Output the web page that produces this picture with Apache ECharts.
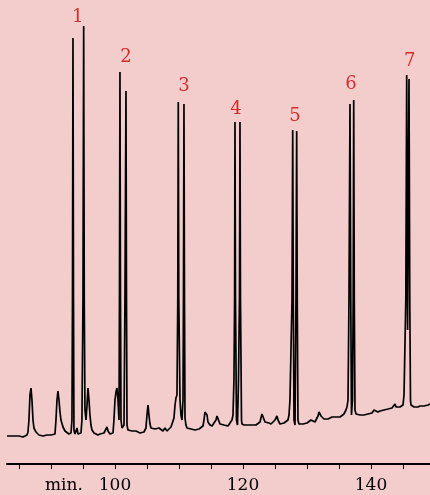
<!DOCTYPE html>
<html>
<head>
<meta charset="utf-8">
<script src="https://cdn.jsdelivr.net/npm/echarts@6/dist/echarts.min.js"></script>
<style>
html,body{margin:0;padding:0;background:#f3cccc;}
#chart{width:430px;height:495px;}
</style>
</head>
<body>
<div id="chart"></div>
<script>
// retention time (min) and detector signal (arbitrary units)
const retentionTimes = [
83.13,83.44,83.75,84.06,84.38,84.69,85.00,85.31,85.63,85.94,86.25,86.41,86.56,86.72,86.88,87.03,87.19,87.34,87.50,87.66,87.81,88.13,88.44,88.75,89.06,89.38,89.69,90.00,90.31,90.63,
90.78,90.94,91.09,91.25,91.41,91.56,91.88,92.19,92.50,92.81,93.13,93.28,93.36,93.44,93.52,93.59,93.75,93.91,94.06,94.22,94.38,94.53,94.69,94.84,95.00,95.11,95.20,95.31,95.47,95.63,
95.78,95.94,96.09,96.25,96.41,96.72,97.03,97.34,97.66,97.97,98.28,98.59,98.75,98.91,99.22,99.53,99.69,99.84,100.00,100.16,100.31,100.47,100.63,100.70,100.78,100.86,100.94,101.09,101.25,101.41,
101.56,101.72,101.80,101.88,102.03,102.34,102.66,102.97,103.28,103.59,103.91,104.22,104.53,104.84,105.00,105.16,105.31,105.47,105.63,105.94,106.25,106.56,106.88,107.19,107.50,107.81,108.13,108.44,108.75,109.06,
109.22,109.38,109.53,109.69,109.81,109.89,109.97,110.16,110.31,110.47,110.63,110.70,110.78,110.86,110.94,111.09,111.25,111.56,111.88,112.19,112.50,112.81,113.13,113.44,113.75,113.91,114.06,114.22,114.38,114.53,
114.84,115.16,115.47,115.78,115.94,116.09,116.25,116.41,116.72,117.03,117.34,117.66,117.97,118.28,118.44,118.59,118.69,118.75,118.83,118.98,119.14,119.30,119.45,119.53,119.61,119.77,119.84,120.16,120.47,120.78,
121.09,121.41,121.72,122.03,122.34,122.66,122.81,122.97,123.13,123.28,123.44,123.75,124.06,124.38,124.69,125.00,125.16,125.31,125.47,125.78,126.09,126.41,126.72,127.03,127.19,127.34,127.50,127.66,127.77,127.86,
127.97,128.13,128.28,128.39,128.48,128.59,128.75,129.06,129.38,129.69,130.00,130.31,130.63,130.78,130.94,131.25,131.56,131.72,131.88,132.03,132.19,132.34,132.66,132.97,133.28,133.59,133.91,134.22,134.53,134.84,
135.16,135.47,135.78,135.94,136.09,136.25,136.41,136.56,136.72,136.84,136.95,137.11,137.22,137.30,137.39,137.50,137.66,137.97,138.28,138.59,138.91,139.22,139.53,139.84,140.16,140.47,140.63,140.78,141.09,141.41,
141.72,142.03,142.34,142.66,142.97,143.28,143.59,143.75,143.91,144.22,144.53,144.84,145.00,145.16,145.44,145.58,145.72,145.83,145.94,146.06,146.17,146.25,146.41,146.72,147.03,147.34,147.66,147.97,148.28,148.59,
148.91,149.22
];
const detectorSignal = [
28,27,28,27,28,27,28,28,27,28,29,32,44,69,76,64,44,36,37,32,30,29,30,28,29,29,28,29,29,30,
44,64,73,64,52,44,37,33,31,30,31,44,164,426,164,34,30,32,36,30,29,28,31,44,164,438,164,54,44,59,
76,64,49,39,34,31,30,29,30,29,31,33,37,33,30,29,31,44,64,72,76,64,44,164,392,164,44,36,34,39,
164,373,164,39,34,32,33,31,33,32,31,31,32,36,49,59,49,40,36,34,35,33,36,34,33,36,33,34,37,36,
46,59,66,69,164,362,164,64,49,44,64,164,360,164,46,39,36,37,35,36,34,36,35,36,38,44,52,54,49,42,
39,38,40,44,48,50,46,40,38,39,37,38,39,44,49,84,164,342,164,44,39,84,164,342,164,44,40,39,40,39,
40,39,40,39,40,42,46,50,52,48,42,40,41,40,41,44,46,48,44,40,40,41,42,44,49,64,114,164,334,164,
44,39,164,333,164,44,40,41,40,41,41,42,44,46,43,42,44,48,52,51,48,46,45,46,45,46,47,46,47,48,
47,49,50,52,54,57,64,164,360,164,49,64,164,364,164,54,50,48,49,48,49,50,50,51,51,54,56,53,52,53,
53,54,54,55,55,56,58,60,57,56,57,58,59,69,164,389,134,264,385,164,64,59,58,57,58,57,58,59,58,59,
59,60
];
// peak numbers and where their labels sit (time, signal)
const peakNames = ['1','2','3','4','5','6','7'];
const labelTimes = [94.17,101.72,110.78,118.91,128.13,136.88,146.05];
const labelSignals = [447,407,378,355,348,380,403];
// axis ticks
const minorTicks = [85,90,95,100,105,110,115,120,125,130,135,140,145];
const majorLabels = [100,120,140];

const trace = retentionTimes.map((t,i)=>[t, detectorSignal[i]]);
const labelData = labelTimes.map((t,i)=>({name: peakNames[i], value:[t, labelSignals[i]]}));

const chart = echarts.init(document.getElementById('chart'), null, {renderer:'canvas'});
chart.setOption({
  backgroundColor: '#f3cccc',
  animation: false,
  grid: {left: 7, right: 0, top: 14, bottom: 31, containLabel: false},
  xAxis: {
    type: 'value',
    min: 83.13,
    max: 149.22,
    axisLine: {show: true, lineStyle: {color: '#000', width: 2}},
    axisTick: {show: true, length: 5, customValues: minorTicks, lineStyle: {color: '#000', width: 1}},
    axisLabel: {show: true, customValues: majorLabels, margin: 13, color: '#000',
      fontFamily: 'DejaVu Serif', fontSize: 17},
    splitLine: {show: false}
  },
  yAxis: {
    type: 'value', min: 0, max: 450, show: false,
    splitLine: {show: false}
  },
  graphic: [{
    type: 'text', left: 45, top: 477,
    style: {text: 'min.', font: '17px "DejaVu Serif"', fill: '#000'}
  }],
  series: [
    {
      type: 'line', data: trace, symbol: 'none', smooth: false,
      lineStyle: {color: '#000', width: 1.7}, clip: false
    },
    {
      type: 'scatter', data: labelData, symbolSize: 1,
      itemStyle: {color: 'rgba(0,0,0,0)'},
      label: {show: true, position: 'inside', formatter: p => p.name,
        color: '#d10000', fontFamily: 'DejaVu Serif', fontSize: 18}
    }
  ]
});
</script>
</body>
</html>
